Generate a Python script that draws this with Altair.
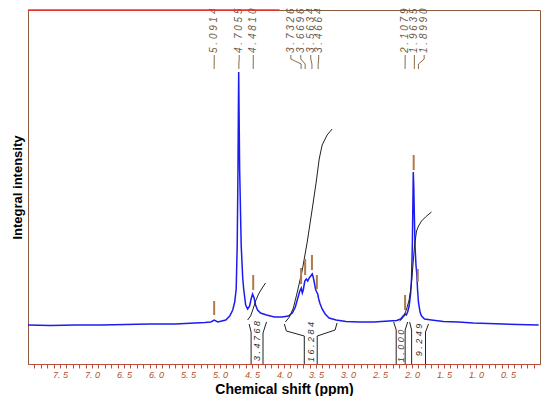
import altair as alt
import pandas as pd

# ---- spectrum trace: chemical shift (ppm) and intensity (arb. units)
spec_ppm = [8.00, 7.643, 7.255, 6.866, 6.478, 6.090, 5.702, 5.391, 5.236, 5.143, 5.091, 5.034,
            4.972, 4.910, 4.848, 4.801, 4.770, 4.747, 4.731, 4.719, 4.713, 4.708, 4.702, 4.693,
            4.669, 4.646, 4.630, 4.599, 4.568, 4.537, 4.514, 4.491, 4.467, 4.444, 4.413, 4.366,
            4.273, 4.149, 4.025, 3.932, 3.870, 3.823, 3.784, 3.753, 3.730, 3.714, 3.699, 3.675,
            3.652, 3.629, 3.606, 3.582, 3.559, 3.544, 3.528, 3.508, 3.489, 3.473, 3.458, 3.435,
            3.404, 3.357, 3.295, 3.186, 3.031, 2.829, 2.596, 2.363, 2.239, 2.177, 2.138, 2.110,
            2.091, 2.068, 2.045, 2.022, 2.006, 1.994, 1.986, 1.980, 1.972, 1.963, 1.952, 1.938,
            1.925, 1.913, 1.898, 1.874, 1.851, 1.804, 1.696, 1.509, 1.276, 1.043, 0.810, 0.578,
            0.345, 0.02]
spec_int = [39, 38.5, 39, 39, 39.5, 40, 40, 41, 41.5, 42, 44, 42,
            43, 44, 48, 54, 62, 75, 119, 195, 252, 292, 252, 195,
            119, 87, 75, 59, 55, 58, 65, 70, 66, 59, 54, 51,
            49, 47, 47, 48, 51, 57, 66, 73, 76, 71, 74, 83,
            85, 83, 86, 88, 90, 87, 82, 75, 72, 70, 65, 60,
            55, 50, 46, 44, 42.5, 42, 42, 43, 43.5, 45, 48, 50,
            49, 52, 58, 70, 87, 122, 162, 192, 177, 147, 117, 99,
            90, 74, 61, 52, 48, 45, 44, 42.5, 42, 41, 40.5, 40,
            39.5, 39]

# ---- integral curves
int_id = ["a"] * 7 + ["b"] * 12 + ["c"] * 14
int_ppm = [4.568, 4.522, 4.483, 4.444, 4.397, 4.351, 4.289,
           3.978, 3.916, 3.854, 3.792, 3.714, 3.637, 3.559, 3.497, 3.450, 3.404, 3.326, 3.248,
           2.193, 2.130, 2.084, 2.045, 2.014, 1.991, 1.975, 1.960, 1.944, 1.929, 1.898, 1.851,
           1.789, 1.696]
int_val = [44, 48, 55, 63, 70, 75, 81,
           42, 47, 56, 72, 94, 122, 155, 182, 205, 219, 229, 235,
           43, 47, 55, 64, 77, 94, 107, 119, 126, 133, 138, 143, 147, 152]

# ---- integration brackets under the baseline
br_id = ["1L"] * 3 + ["1R"] * 3 + ["2L"] * 4 + ["2R"] * 4 + ["3L"] * 3 + ["3R"] * 3 + ["4L"] * 3 + ["4R"] * 3
br_ppm = [4.545, 4.514, 4.514, 4.273, 4.328, 4.328,
          3.994, 3.963, 3.683, 3.683, 3.171, 3.202, 3.481, 3.481,
          2.286, 2.247, 2.247, 2.068, 2.107, 2.107,
          2.037, 2.006, 2.006, 1.742, 1.789, 1.789]
br_val = [40, 32, 0, 42, 31, 0,
          40, 33, 28, 0, 41, 34, 28, 0,
          42, 34, 0, 42, 34, 0,
          42, 34, 0, 40, 32, 0]

integral_text = ["3.4768", "16.284", "1.000", "9.249"]
integral_ppm = [4.42, 3.582, 2.177, 1.898]
integral_y = [23, 22, 18, 24]

# ---- peak picking
peak_text = ["5.0914", "4.7055", "4.4810", "3.7326", "3.6696", "3.5634", "3.4664", "2.1079", "1.9635", "1.8990"]
peak_ppm = [5.0914, 4.7055, 4.4810, 3.7326, 3.6696, 3.5634, 3.4664, 2.1079, 1.9635, 1.8990]
label_ppm = [5.09, 4.70, 4.48, 3.893, 3.738, 3.582, 3.458, 2.107, 1.963, 1.81]

marker_ppm = [5.0914, 4.4810, 3.7326, 3.6696, 3.5634, 3.4864, 2.1079, 1.9739, 1.9100]
marker_lo = [49, 74, 80, 89, 94, 75, 54, 194, 82]
marker_hi = [63, 89, 96, 105, 109, 89, 69, 209, 95]

tick_vals = [round(i * 0.1, 1) for i in range(1, 80)]

LABEL_Y = 311
LEAD_Y = [309, 305, 300, 295]
TOP = 354


def spaced(s):
    return " ".join(s)


spec = pd.DataFrame({"ppm": spec_ppm, "v": spec_int, "k": range(len(spec_ppm))})
integ = pd.DataFrame({"id": int_id, "ppm": int_ppm, "v": int_val, "k": range(len(int_ppm))})
br = pd.DataFrame({"id": br_id, "ppm": br_ppm, "v": br_val, "k": range(len(br_ppm))})
itext = pd.DataFrame({"t": [spaced(s) for s in integral_text], "ppm": integral_ppm, "v": integral_y})
ptext = pd.DataFrame({"t": [spaced(s) for s in peak_text], "ppm": label_ppm})
markers = pd.DataFrame({"ppm": marker_ppm, "lo": marker_lo, "hi": marker_hi})
lead_rows = []
for i, (lp, pp) in enumerate(zip(label_ppm, peak_ppm)):
    for j, (xx, yy) in enumerate(zip([lp, lp, pp, pp], LEAD_Y)):
        lead_rows.append({"id": i, "ppm": xx, "v": yy, "k": j})
leads = pd.DataFrame(lead_rows)

xscale = alt.Scale(domain=[0, 8], reverse=True, nice=False, zero=False)
yscale = alt.Scale(domain=[0, TOP], nice=False, zero=False)

label_expr = ("(abs(datum.value*2 - round(datum.value*2)) < 0.001 && datum.value > 0.05 && datum.value < 7.95)"
              " ? replace(format(datum.value, '.1f'), '.', '. ') : ''")

xaxis = alt.Axis(title="Chemical shift (ppm)", values=tick_vals, tickCount=200, labelExpr=label_expr,
                 labelOverlap=False, labelFlush=False, labelBound=False, grid=False,
                 tickSize=4, tickColor="#c04a3a", domainColor="#c04a3a",
                 labelColor="#b0502d", labelFont="Liberation Sans", labelFontStyle="italic",
                 labelFontSize=9, labelPadding=2,
                 titleFont="Liberation Sans", titleFontSize=14, titleFontWeight="bold",
                 titleColor="black", titlePadding=3)
yaxis = alt.Axis(title="Integral intensity", labels=False, ticks=False, domain=False, grid=False,
                 titleFont="Liberation Sans", titleFontSize=13, titleFontWeight="bold",
                 titleColor="black", titlePadding=4)

X = alt.X("ppm:Q", scale=xscale, axis=xaxis)
Y = alt.Y("v:Q", scale=yscale, axis=yaxis)

spectrum = alt.Chart(spec).mark_line(color="#1c1cf0", strokeWidth=1.5).encode(
    x=X, y=Y, order="k:Q")

integrals = alt.Chart(integ).mark_line(color="#222222", strokeWidth=1).encode(
    x="ppm:Q", y="v:Q", detail="id:N", order="k:Q")

brackets = alt.Chart(br).mark_line(color="#222222", strokeWidth=1).encode(
    x="ppm:Q", y="v:Q", detail="id:N", order="k:Q")

itext_layer = alt.Chart(itext).mark_text(angle=270, align="center", baseline="middle",
                                         font="Liberation Sans", fontSize=9, fontStyle="italic",
                                         color="#333333").encode(
    x="ppm:Q", y="v:Q", text="t:N")

marker_layer = alt.Chart(markers).mark_rule(color="#b07a4a", strokeWidth=2).encode(
    x="ppm:Q", y="lo:Q", y2="hi:Q")

lead_layer = alt.Chart(leads).mark_line(color="#8a6a4a", strokeWidth=1).encode(
    x="ppm:Q", y="v:Q", detail="id:N", order="k:Q")

ptext_layer = alt.Chart(ptext).mark_text(angle=270, align="left", baseline="middle",
                                         font="Liberation Sans", fontSize=10, fontStyle="italic",
                                         color="#6e5a46").encode(
    x="ppm:Q", y=alt.datum(LABEL_Y), text="t:N")

red_top = alt.Chart(pd.DataFrame({"a": [8.0], "b": [4.07]})).mark_rule(color="#ff2a2a", strokeWidth=1.5).encode(
    x="a:Q", x2="b:Q", y=alt.datum(TOP))

chart = alt.layer(spectrum, integrals, brackets, itext_layer, marker_layer, lead_layer,
                  ptext_layer, red_top).properties(
    width=512, height=354,
    padding={"left": 3, "top": 0, "right": 0, "bottom": 0},
    background="white",
).configure_view(stroke="#8b5a3c", strokeWidth=1)

chart.save("out.html", embed_options={"renderer": "svg", "actions": False})
